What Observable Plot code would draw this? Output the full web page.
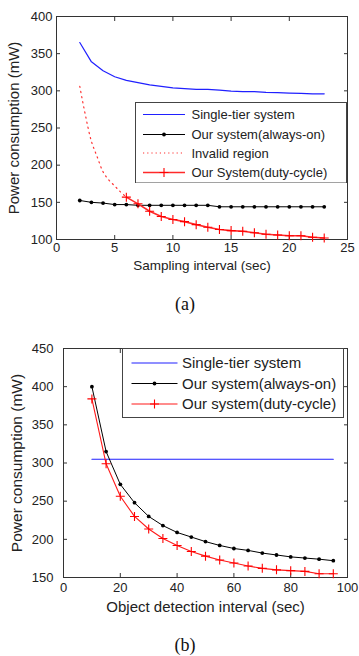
<!DOCTYPE html>
<html><head><meta charset="utf-8">
<script src="https://cdn.jsdelivr.net/npm/d3@7"></script>
<script src="https://cdn.jsdelivr.net/npm/@observablehq/plot@0.6"></script>
<style>
body{margin:0;background:#fff;}
#wrap{position:relative;width:359px;height:656px;overflow:hidden;font-family:"Liberation Sans",Arial,sans-serif;}
.plot{position:absolute;left:0;}
.cap{position:absolute;left:0;width:370px;text-align:center;font-family:"Liberation Serif","Times New Roman",serif;font-size:18px;line-height:20px;color:#111;}
.leg{position:absolute;}
</style></head><body>
<div id="wrap"></div>
<script>
// ---------- Chart (a) data ----------
const samplingInterval = [2,3,4,5,6,7,8,9,10,11,12,13,14,15,16,17,18,19,20,21,22,23];
const singleTierA = [365,339,327,319,314,311,308,306,304,303,302,302,301,299.5,299,299,298,297.5,297,296.5,296,296];
const alwaysOnA = [152.5,150,149,147,147,146,146,146,146,146,146,146,144,144,144,144,144,144,144,144,144,144];
const invalidX = [2,2.5,3,3.5,4,4.5,5,5.5,6];
const invalidY = [306,266,232,211,191,180,172,164,157];
const dutyX = [6,7,8,9,10,11,12,13,14,15,16,17,18,19,20,21,22,23];
const dutyA = [157,148,138,131,127,124,120,116.5,113.5,112,111,109,107,106,105,105,103,102];
const xTicksA = [0,5,10,15,20,25];
const yTicksA = [100,150,200,250,300,350,400];

// ---------- Chart (b) data ----------
const detectInterval = [10,15,20,25,30,35,40,45,50,55,60,65,70,75,80,85,90,95];
const singleTierB = [305,305,305,305,305,305,305,305,305,305,305,305,305,305,305,305,305,305];
const alwaysOnB = [400,315,272,248,230,218,209,203,197,192,188,185.5,182,179.5,177,175.5,174,172];
const dutyB = [384,299,256.5,230,213.5,201,192,184,178,173,169,165,162,160,159,158,155,155];
const xTicksB = [0,20,40,60,80,100];
const yTicksB = [150,200,250,300,350,400,450];

const seriesNames = {
  single: "Single-tier system",
  always: "Our system(always-on)",
  invalid: "Invalid region",
  dutyA: "Our System(duty-cycle)",
  dutyB: "Our system(duty-cycle)"
};

const plusSym = {draw(ctx, size){ const r = Math.sqrt(size/Math.PI); ctx.moveTo(-r,0); ctx.lineTo(r,0); ctx.moveTo(0,-r); ctx.lineTo(0,r);} };

const zip = (xs, ys) => xs.map((x,i)=>({x, y: ys[i]}));
const wrap = document.getElementById("wrap");
const fmt = d => String(d);

function axes(xt, yt, o){
  return [
    Plot.axisX({ticks:xt, anchor:"bottom", tickSize:-4, tickFormat:()=>"", label:null, stroke:"#333"}),
    Plot.text(xt.map(fmt), {x:d=>+d, text:d=>d, frameAnchor:"bottom", lineAnchor:"top", dy:o.xPad, fontSize:13, fill:"#222"}),
    Plot.axisX({ticks:xt, anchor:"top", tickSize:-4, tickFormat:()=>"", label:null, stroke:"#333"}),
    Plot.axisY({ticks:yt, anchor:"left", tickSize:-4, tickPadding:o.yPad, tickFormat:fmt, fontSize:13, fill:"#222", stroke:"#333", label:null}),
    Plot.axisY({ticks:yt, anchor:"right", tickSize:-4, tickFormat:()=>"", label:null, stroke:"#333"}),
    Plot.frame({stroke:"#333"})
  ];
}

// ---------- Plot (a) ----------
const pa = Plot.plot({
  width:359, height:285,
  marginTop:16, marginBottom:46, marginLeft:56, marginRight:12,
  style:{fontFamily:'"Liberation Sans",Arial,sans-serif', fontSize:"13px", background:"white"},
  x:{domain:[0,25]},
  y:{domain:[100,400]},
  marks:[
    ...axes(xTicksA, yTicksA, {xPad:3, yPad:8}),
    Plot.line(zip(samplingInterval, singleTierA), {x:"x", y:"y", stroke:"#2020ff", strokeWidth:1.2}),
    Plot.line(zip(invalidX, invalidY), {x:"x", y:"y", stroke:"#ff3030", strokeWidth:1.2, strokeDasharray:"1.2,4", curve:"catmull-rom"}),
    Plot.line(zip(samplingInterval, alwaysOnA), {x:"x", y:"y", stroke:"black", strokeWidth:1}),
    Plot.dot(zip(samplingInterval, alwaysOnA), {x:"x", y:"y", fill:"black", r:1.9}),
    Plot.line(zip(dutyX, dutyA), {x:"x", y:"y", stroke:"#ff2a2a", strokeWidth:1.6}),
    Plot.dot(zip(dutyX, dutyA), {x:"x", y:"y", symbol:plusSym, r:4.5, stroke:"red", fill:"none", strokeWidth:1.1}),
    Plot.text(["Power consumption (mW)"], {frameAnchor:"left", textAnchor:"middle", dx:-42, rotate:-90, fontSize:15, fill:"#222"}),
    Plot.text(["Sampling interval (sec)"], {frameAnchor:"bottom", dy:30, fontSize:13.5, fill:"#222"})
  ]
});
pa.classList.add("plot"); pa.style.top = "0px";
wrap.appendChild(pa);

// ---------- Plot (b) ----------
const pb = Plot.plot({
  width:359, height:290,
  marginTop:18, marginBottom:43, marginLeft:63, marginRight:12,
  style:{fontFamily:'"Liberation Sans",Arial,sans-serif', fontSize:"13px", background:"white"},
  x:{domain:[0,100]},
  y:{domain:[150,450]},
  marks:[
    ...axes(xTicksB, yTicksB, {xPad:5, yPad:14}),
    Plot.line(zip(detectInterval, singleTierB), {x:"x", y:"y", stroke:"#2020ff", strokeWidth:1.1}),
    Plot.line(zip(detectInterval, alwaysOnB), {x:"x", y:"y", stroke:"black", strokeWidth:1}),
    Plot.dot(zip(detectInterval, alwaysOnB), {x:"x", y:"y", fill:"black", r:1.9}),
    Plot.line(zip(detectInterval, dutyB), {x:"x", y:"y", stroke:"#ff1a1a", strokeWidth:1.1}),
    Plot.dot(zip(detectInterval, dutyB), {x:"x", y:"y", symbol:plusSym, r:4.5, stroke:"red", fill:"none", strokeWidth:1.1}),
    Plot.text(["Power consumption (mW)"], {frameAnchor:"left", textAnchor:"middle", dx:-46, rotate:-90, fontSize:15.5, fill:"#222"}),
    Plot.text(["Object detection interval (sec)"], {frameAnchor:"bottom", dy:34, fontSize:15, fill:"#222"})
  ]
});
pb.classList.add("plot"); pb.style.top = "330px";
wrap.appendChild(pb);

// ---------- captions ----------
function cap(t, top){ const d=document.createElement("div"); d.className="cap"; d.textContent=t; d.style.top=top+"px"; wrap.appendChild(d); }
cap("(a)", 294);
cap("(b)", 635);

// ---------- legends ----------
function legend(left, top, w, h, rows, fs, x1, x2, tx){
  const svg = d3.select(wrap).append("svg").attr("class","leg")
    .style("left", left+"px").style("top", top+"px").attr("width", w).attr("height", h);
  svg.append("rect").attr("x",0.5).attr("y",0.5).attr("width",w-1).attr("height",h-1).attr("fill","white").attr("stroke","#444");
  rows.forEach(r=>{
    const g = svg.append("g").attr("transform", `translate(0,${r.y})`);
    g.append("line").attr("x1",x1).attr("x2",x2).attr("y1",0).attr("y2",0).attr("stroke",r.color).attr("stroke-width",r.sw||1.1)
      .attr("stroke-dasharray", r.dash||null);
    const mx = (x1+x2)/2;
    if (r.marker==="dot") g.append("circle").attr("cx",mx).attr("r",1.9).attr("fill","black");
    if (r.marker==="plus") g.append("path").attr("d",`M${mx-4.5},0H${mx+4.5}M${mx},-4.5V4.5`).attr("stroke","red").attr("stroke-width",1.1);
    g.append("text").attr("x",tx).attr("dy","0.35em").attr("font-size",fs).attr("fill","#222")
      .attr("font-family",'"Liberation Sans",Arial,sans-serif').text(r.label);
  });
}
legend(135, 101.5, 212, 81.5, [
  {y:12.5, color:"#2020ff", label:seriesNames.single},
  {y:32.5, color:"black", marker:"dot", label:seriesNames.always},
  {y:51, color:"#ff3030", dash:"1.2,3", label:seriesNames.invalid},
  {y:70.5, color:"#ff2a2a", sw:1.6, marker:"plus", label:seriesNames.dutyA}
], 13, 8, 50, 56.5);
legend(121.5, 348, 222, 70, [
  {y:15, color:"#2020ff", label:seriesNames.single},
  {y:35.5, color:"black", marker:"dot", label:seriesNames.always},
  {y:56, color:"#ff1a1a", marker:"plus", label:seriesNames.dutyB}
], 15, 9.5, 55.5, 60);
</script>
</body></html>
